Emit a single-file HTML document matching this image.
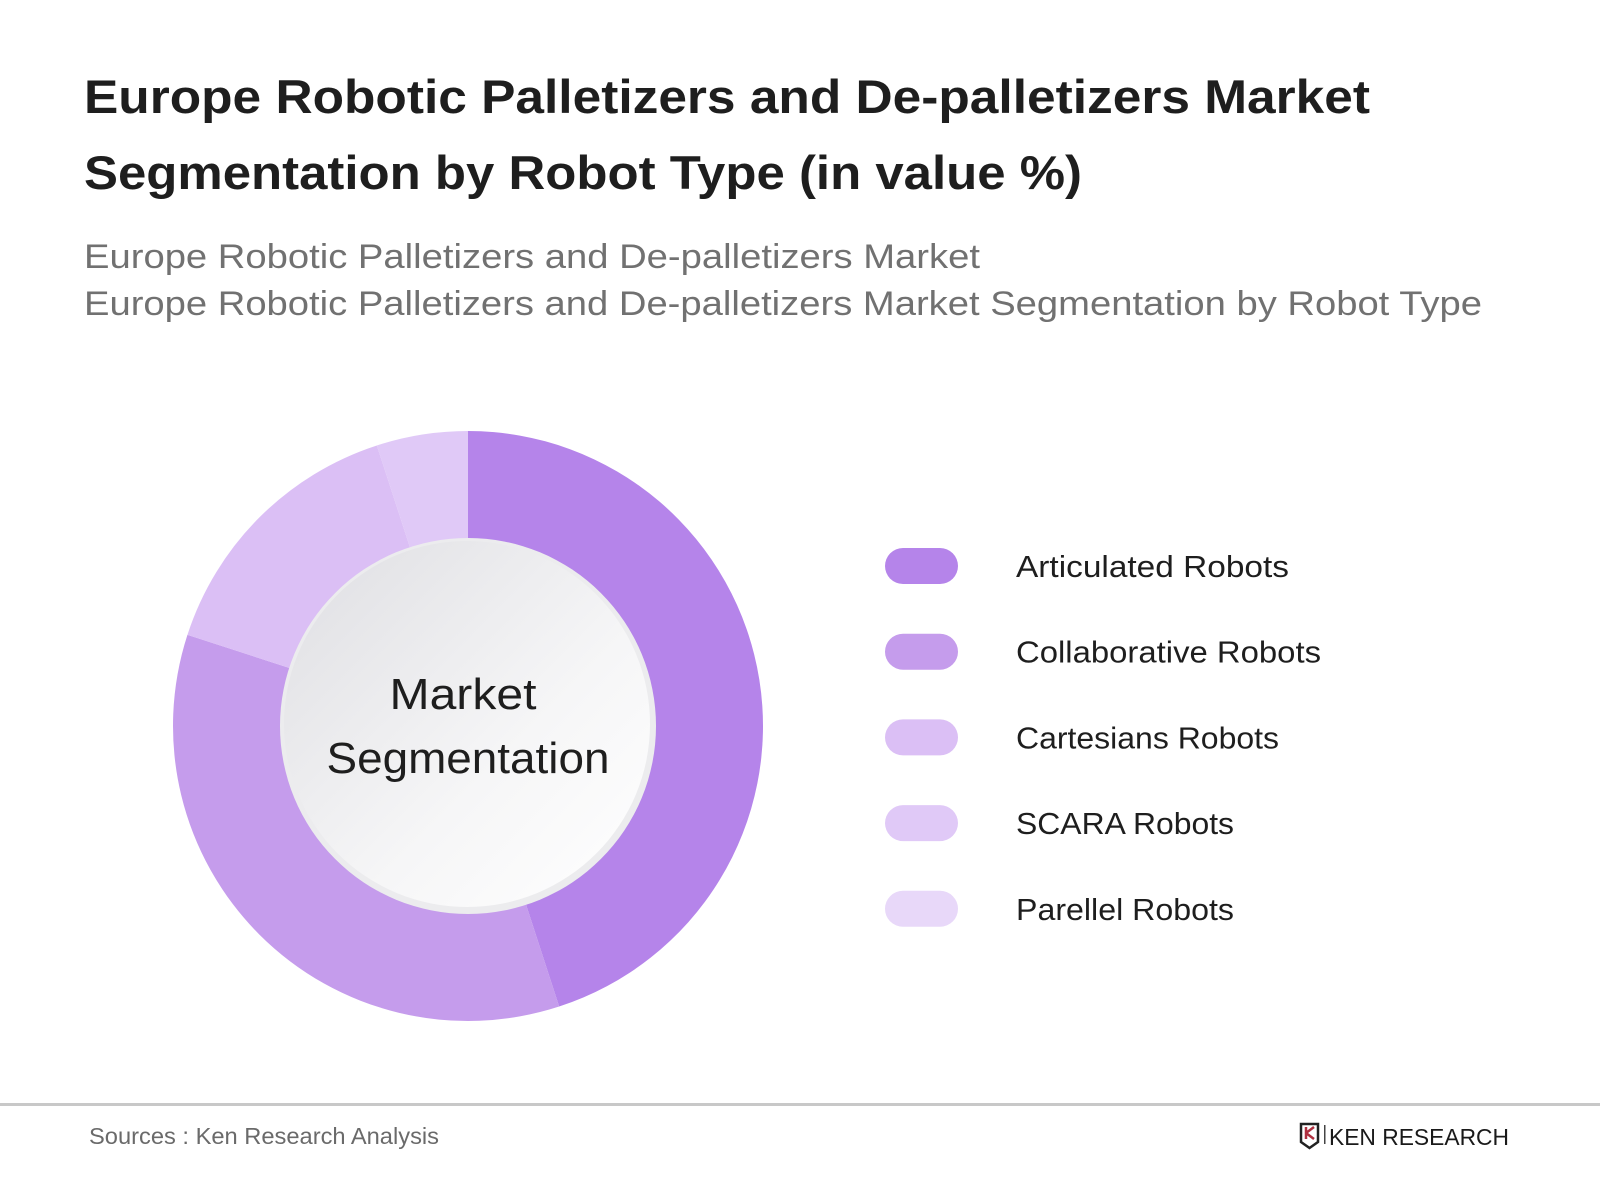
<!DOCTYPE html>
<html><head><meta charset="utf-8"><style>
html,body{margin:0;padding:0;background:#fff;width:1600px;height:1200px;overflow:hidden}
svg{display:block;font-family:"Liberation Sans",sans-serif}
</style></head><body>
<svg id="chart" width="1600" height="1200" viewBox="0 0 1600 1200">
<defs>
<linearGradient id="hole" x1="0" y1="0" x2="1" y2="1">
<stop offset="0" stop-color="#dedee2"/><stop offset="0.6" stop-color="#f6f6f7"/><stop offset="1" stop-color="#ffffff"/>
</linearGradient>
</defs>
<text x="84" y="113" font-size="47" font-weight="bold" fill="#1e1e1e" textLength="1286" lengthAdjust="spacingAndGlyphs">Europe Robotic Palletizers and De-palletizers Market</text>
<text x="84" y="189" font-size="47" font-weight="bold" fill="#1e1e1e" textLength="998" lengthAdjust="spacingAndGlyphs">Segmentation by Robot Type (in value %)</text>
<text x="84" y="268" font-size="34" fill="#717171" textLength="896" lengthAdjust="spacingAndGlyphs">Europe Robotic Palletizers and De-palletizers Market</text>
<text x="84" y="315" font-size="34" fill="#717171" textLength="1398" lengthAdjust="spacingAndGlyphs">Europe Robotic Palletizers and De-palletizers Market Segmentation by Robot Type</text>
<g id="slices"></g>
<circle cx="468" cy="726" r="188" fill="#ececee"/>
<circle cx="467" cy="724" r="183" fill="url(#hole)"/>
<text x="463" y="709" font-size="44" fill="#1e1e1e" text-anchor="middle" textLength="147" lengthAdjust="spacingAndGlyphs">Market</text>
<text x="468" y="773" font-size="44" fill="#1e1e1e" text-anchor="middle" textLength="283" lengthAdjust="spacingAndGlyphs">Segmentation</text>
<g id="legend"></g>
<rect x="0" y="1103" width="1600" height="3" fill="#c8c8c8"/>
<text x="89" y="1144" font-size="23" fill="#6a6a6a" textLength="350" lengthAdjust="spacingAndGlyphs">Sources : Ken Research Analysis</text>
<g>
<path d="M1301 1124 h17 v18 l-8.5 6 l-8.5 -6 z" fill="none" stroke="#222" stroke-width="2.5"/>
<path d="M1306 1127 v12 M1306 1133 l8 -6 M1306 1133 l8 6" stroke="#b03040" stroke-width="2.5" fill="none"/>
<rect x="1324" y="1125" width="1.5" height="19" fill="#444"/>
<text x="1329" y="1145" font-size="23" fill="#1a1a1a" textLength="180" lengthAdjust="spacingAndGlyphs">KEN RESEARCH</text>
</g>
</svg>
<script>
const categories = ["Articulated Robots","Collaborative Robots","Cartesians Robots","SCARA Robots","Parellel Robots"];
const shares = [45, 35, 15, 5, 0];
const colors = ["#b584ea","#c59cec","#dbbff5","#e0c9f7","#e8d8f9"];
const NS = "http://www.w3.org/2000/svg";
const cx = 468, cy = 726, rOut = 295, rIn = 150;
const total = shares.reduce((a,b)=>a+b,0);
function angleOf(v){ return v/total*2*Math.PI; }
function pt(a,r){ return [cx + r*Math.sin(a), cy - r*Math.cos(a)]; }
const slicesG = document.getElementById("slices");
let acc = 0;
shares.forEach((v,i)=>{
  const a0 = angleOf(acc), a1 = angleOf(acc+v);
  acc += v;
  if (v <= 0) return;
  const large = (a1-a0) > Math.PI ? 1 : 0;
  const [x0,y0] = pt(a0,rOut), [x1,y1] = pt(a1,rOut), [x2,y2] = pt(a1,rIn), [x3,y3] = pt(a0,rIn);
  const p = document.createElementNS(NS,"path");
  p.setAttribute("d",`M${x0} ${y0} A${rOut} ${rOut} 0 ${large} 1 ${x1} ${y1} L${x2} ${y2} A${rIn} ${rIn} 0 ${large} 0 ${x3} ${y3} Z`);
  p.setAttribute("fill",colors[i]);
  
  
  slicesG.appendChild(p);
});
const legendG = document.getElementById("legend");
const legendTop = 566, legendStep = 85.7;
const labelWidths = [273, 305, 263, 218, 218];
categories.forEach((c,i)=>{
  const y = legendTop + i*legendStep;
  const g = document.createElementNS(NS,"g");
  
  
  const r = document.createElementNS(NS,"rect");
  r.setAttribute("x",885); r.setAttribute("y",y-18); r.setAttribute("width",73); r.setAttribute("height",36);
  r.setAttribute("rx",18); r.setAttribute("fill",colors[i]);
  
  
  const t = document.createElementNS(NS,"text");
  t.setAttribute("x",1016); t.setAttribute("y",y+11); t.setAttribute("font-size",31); t.setAttribute("fill","#1e1e1e");
  t.setAttribute("textLength",labelWidths[i]); t.setAttribute("lengthAdjust","spacingAndGlyphs");
  t.textContent = c;
  
  
  g.appendChild(r); g.appendChild(t); legendG.appendChild(g);
});
</script>
</body></html>
